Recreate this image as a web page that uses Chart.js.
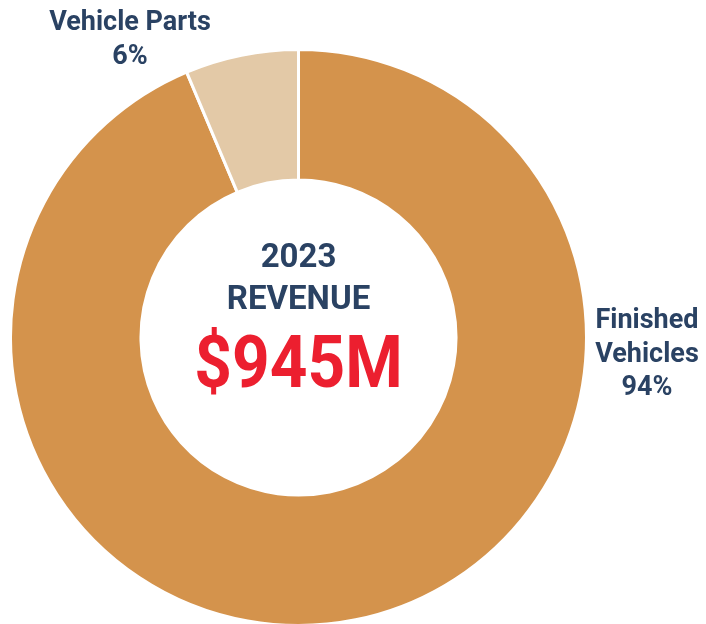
<!DOCTYPE html>
<html>
<head>
<meta charset="utf-8">
<script src="https://cdn.jsdelivr.net/npm/chart.js@4/dist/chart.umd.min.js"></script>
<style>
  html, body { margin: 0; padding: 0; background: #fff; overflow: hidden; }
  #wrap { position: relative; width: 706px; height: 624px; overflow: hidden; }
  canvas { display: block; }
</style>
</head>
<body>
<div id="wrap"><canvas id="chart" width="706" height="630"></canvas></div>
<script>
/* 2023 revenue split — doughnut with centre total and outside labels. */

const SEGMENTS = ["Finished Vehicles", "Vehicle Parts"];
const REVENUE_M = [885, 60];           // $M (~6.4% parts)
const SHARE_LABELS = ["94%", "6%"];
const COLORS = ["#d4934c", "#e3c9a7"];

const CENTER_LINES = ["2023", "REVENUE", "$945M"];

const NAVY = "#2a4263";
const RED = "#ec1f2f";
const FONT = "Roboto, 'Noto Sans', sans-serif";

// outside labels: lines + anchor (baseline of first line), drawn centred
const OUTSIDE = [
  { lines: ["Finished", "Vehicles", SHARE_LABELS[0]], x: 647, y: 328 },
  { lines: ["Vehicle Parts", SHARE_LABELS[1]], x: 130, y: 30 },
];

const textPlugin = {
  id: "textPlugin",
  afterDraw(chart) {
    const { ctx } = chart;
    const arc = chart.getDatasetMeta(0).data[0];
    const cx = arc.x, cy = arc.y;
    ctx.save();
    ctx.textAlign = "center";
    ctx.textBaseline = "alphabetic";

    ctx.fillStyle = NAVY;
    ctx.font = `bold 33px ${FONT}`;
    ctx.fillText(CENTER_LINES[0], cx, cy - 71);
    ctx.fillText(CENTER_LINES[1], cx, cy - 29);

    // big total is set narrower than the regular face
    ctx.save();
    ctx.translate(cx, cy + 49);
    ctx.scale(0.9, 1);
    ctx.fillStyle = RED;
    ctx.font = `bold 73px ${FONT}`;
    ctx.fillText(CENTER_LINES[2], 0, 0);
    ctx.restore();

    ctx.fillStyle = NAVY;
    ctx.font = `bold 27px ${FONT}`;
    OUTSIDE.forEach((o) => {
      o.lines.forEach((line, i) => ctx.fillText(line, o.x, o.y + i * 33.5));
    });
    ctx.restore();
  },
};

function draw() {
  new Chart(document.getElementById("chart"), {
    type: "doughnut",
    data: {
      labels: SEGMENTS,
      datasets: [{
        data: REVENUE_M,
        backgroundColor: COLORS,
        borderColor: "#ffffff",
        borderWidth: 3,
        hoverOffset: 0,
      }],
    },
    options: {
      responsive: false,
      animation: false,
      cutout: "54.7%",
      layout: { padding: { left: 9, right: 118, top: 48, bottom: 3 } },
      plugins: { legend: { display: false }, tooltip: { enabled: false } },
    },
    plugins: [textPlugin],
  });
}

(document.fonts ? document.fonts.load(`bold 25px Roboto`).catch(() => {}) : Promise.resolve())
  .then(draw);
</script>
</body>
</html>
